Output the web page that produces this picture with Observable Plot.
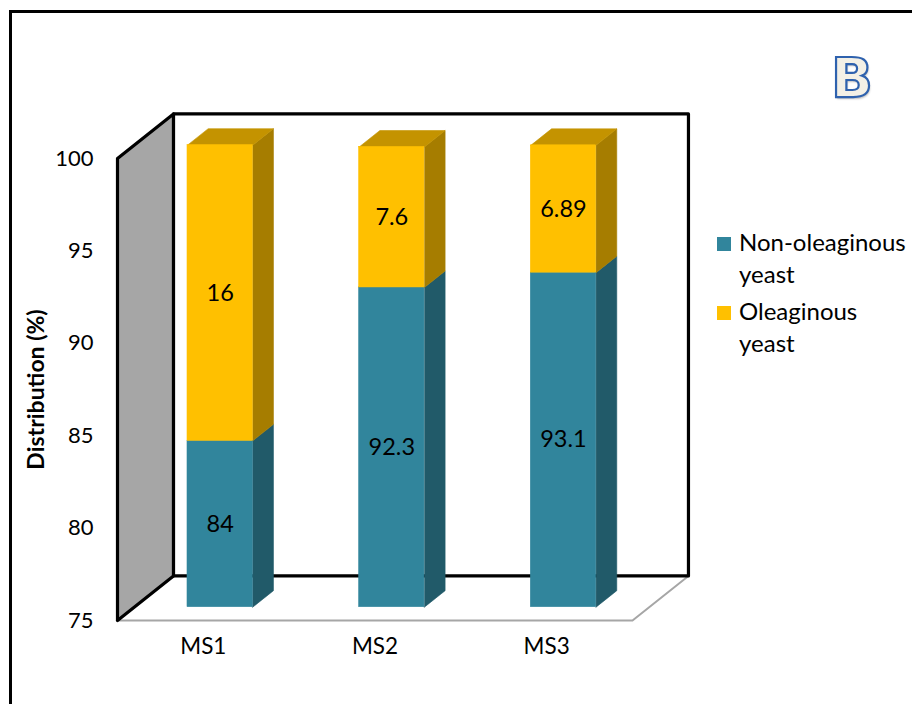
<!DOCTYPE html>
<html>
<head>
<meta charset="utf-8">
<script src="https://cdn.jsdelivr.net/npm/d3@7"></script>
<script src="https://cdn.jsdelivr.net/npm/@observablehq/plot@0.6"></script>
<style>
  html, body { margin: 0; padding: 0; background: #fff; }
  #wrap { position: relative; width: 912px; height: 704px; overflow: hidden; background: #fff; font-family: Lato, "Open Sans", sans-serif; }
  #frame { position: absolute; left: 9px; top: 10px; width: 1000px; height: 1000px; border: 3px solid #000; box-sizing: border-box; pointer-events: none; }
  #chart { position: absolute; left: 0; top: 0; }
  .leg-item { position: absolute; left: 717px; font-size: 24px; line-height: 32px; color: #000; }
  .leg-sw { position: absolute; left: 0; top: 11px; width: 14px; height: 14px; }
  .leg-tx { position: absolute; left: 22px; top: 0; white-space: nowrap; }
  #letter { position: absolute; left: 831px; top: 48px; font-family: "DejaVu Sans", sans-serif; font-weight: 700; font-size: 55px; line-height: 60px;
            color: #F3F0E6; -webkit-text-stroke: 2.2px #2F62AE; text-shadow: 1px 2px 2px rgba(0,0,0,0.25); }
</style>
</head>
<body>
<div id="wrap">
  <div id="chart"></div>
  <div id="legend"></div>
  <div id="letter">B</div>
  <div id="frame"></div>
</div>
<script>
// ---- data ----
const categories = ["MS1", "MS2", "MS3"];
const nonOleaginous = [84, 92.3, 93.1];
const oleaginous = [16, 7.6, 6.89];
const seriesNames = ["Non-oleaginous yeast", "Oleaginous yeast"];
const yTicks = [75, 80, 85, 90, 95, 100];
const yTitle = "Distribution (%)";

// ---- styling ----
const palette = [
  {front: "#31859C", side: "#215A69", top: "#2A7387"},
  {front: "#FFC000", side: "#A67D00", top: "#C49300"}
];
const seriesValues = [nonOleaginous, oleaginous];

const Y0 = yTicks[0], Y1 = yTicks[yTicks.length - 1];
const N = categories.length;
const DX = 0.326, DY = 2.41;   // depth vector of the 3D box, in data units
const T0 = 0.30, T1 = 0.67;    // bar depth (fraction of box depth)
const HW = 0.19;               // half bar width (category units)

// ---- build faces from the data ----
const fronts = [], sides = [], tops = [], labels = [];
categories.forEach((c, i) => {
  let acc = 0;
  seriesValues.forEach((vals, k) => {
    const v = vals[i];
    const lo = Math.max(acc, Y0), hi = acc + v;
    acc = hi;
    const cx = i + 0.5;
    const col = palette[k];
    fronts.push({x1: cx - HW + DX * T0, x2: cx + HW + DX * T0, y1: lo + DY * T0, y2: hi + DY * T0, fill: col.front});
    const xr0 = cx + HW + DX * T0, xr1 = cx + HW + DX * T1;
    [[xr0, lo + DY * T0], [xr1, lo + DY * T1], [xr1, hi + DY * T1], [xr0, hi + DY * T0]]
      .forEach(([x, y]) => sides.push({id: `${c}-${k}`, x, y, fill: col.side}));
    if (k === seriesValues.length - 1) {
      [[cx - HW + DX * T0, hi + DY * T0], [cx - HW + DX * T1, hi + DY * T1], [cx + HW + DX * T1, hi + DY * T1], [cx + HW + DX * T0, hi + DY * T0]]
        .forEach(([x, y]) => tops.push({id: `${c}-top`, x, y, fill: col.top}));
    }
    labels.push({x: cx + DX * T0, y: (lo + hi) / 2 + DY * T0, text: String(v)});
  });
});

const toPts = (arr) => arr.map(([x, y]) => ({x, y}));
const floor = toPts([[0, Y0], [DX, Y0 + DY], [N + DX, Y0 + DY], [N, Y0], [0, Y0]]);
const sideWall = toPts([[0, Y0], [DX, Y0 + DY], [DX, Y1 + DY], [0, Y1], [0, Y0]]);
const backWall = toPts([[DX, Y0 + DY], [N + DX, Y0 + DY], [N + DX, Y1 + DY], [DX, Y1 + DY], [DX, Y0 + DY]]);

const chart = Plot.plot({
  width: 912,
  height: 704,
  marginLeft: 117,
  marginRight: 280,
  marginTop: 158,
  marginBottom: 84,
  style: {fontFamily: "Lato, 'Open Sans', sans-serif", fontSize: "22px", color: "#000", background: "transparent", overflow: "visible"},
  x: {type: "linear", domain: [0, N]},
  y: {type: "linear", domain: [Y0, Y1]},
  color: {type: "identity"},
  marks: [
    Plot.line(floor, {x: "x", y: "y", fill: "#fff", stroke: "#A6A6A6", strokeWidth: 2, strokeLinejoin: "round"}),
    Plot.line(backWall, {x: "x", y: "y", fill: "#fff", stroke: "#000", strokeWidth: 3.2, strokeLinejoin: "round"}),
    Plot.line(sideWall, {x: "x", y: "y", fill: "#A6A6A6", stroke: "#000", strokeWidth: 3.2, strokeLinejoin: "round"}),
    Plot.line(sides, {x: "x", y: "y", z: "id", fill: "fill", stroke: "fill", strokeWidth: 0.6, curve: "linear-closed"}),
    Plot.line(tops, {x: "x", y: "y", z: "id", fill: "fill", stroke: "fill", strokeWidth: 0.6, curve: "linear-closed"}),
    Plot.rect(fronts, {x1: "x1", x2: "x2", y1: "y1", y2: "y2", fill: "fill", stroke: "fill", strokeWidth: 0.6}),
    Plot.text(labels, {x: "x", y: "y", text: "text", fontSize: 23.5, fill: "#000"}),
    Plot.axisY({ticks: yTicks, tickSize: 0, tickPadding: 24, fontSize: 22, label: null}),
    Plot.axisX({ticks: categories.map((_, i) => i + 0.5), tickFormat: (d) => categories[Math.round(d - 0.5)], tickSize: 0, tickPadding: 18, fontSize: 22.5, label: null}),
    Plot.text([yTitle], {frameAnchor: "left", dx: -81, rotate: -90, textAnchor: "middle", fontSize: 23, fontWeight: "bold", fill: "#000"})
  ]
});
document.getElementById("chart").appendChild(chart);

// ---- legend (HTML) ----
const legend = document.getElementById("legend");
const legTops = [225.5, 294.5];
seriesNames.forEach((name, k) => {
  const words = name.split(" ");
  const last = words.pop();
  const item = document.createElement("div");
  item.className = "leg-item";
  item.style.top = legTops[k] + "px";
  const sw = document.createElement("div");
  sw.className = "leg-sw";
  sw.style.background = palette[k].front;
  const tx = document.createElement("div");
  tx.className = "leg-tx";
  tx.innerHTML = words.join(" ") + "<br>" + last;
  item.appendChild(sw);
  item.appendChild(tx);
  legend.appendChild(item);
});
</script>
</body>
</html>
